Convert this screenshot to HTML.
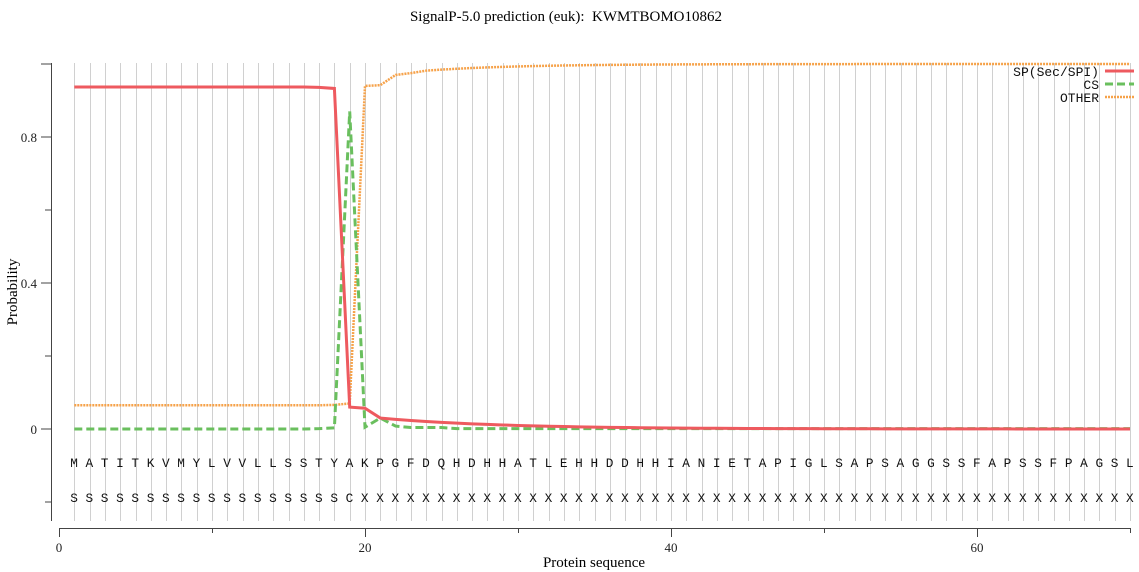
<!DOCTYPE html>
<html><head><meta charset="utf-8"><style>
body{margin:0;background:#fff}
svg{display:block}
</style></head><body>
<svg id="s" width="1139" height="572" xmlns="http://www.w3.org/2000/svg">
<rect width="1139" height="572" fill="#fff"/>
<g id="grid" stroke="#d0d0d0" stroke-width="1"></g>
<text x="566" y="21" font-family="Liberation Serif, serif" font-size="15" text-anchor="middle" xml:space="preserve">SignalP-5.0 prediction (euk):  KWMTBOMO10862</text>
<g stroke="#444" stroke-width="1" fill="none">
<line x1="51.5" y1="63" x2="51.5" y2="521"/>
<line x1="41" y1="64" x2="51" y2="64"/>
<line x1="41" y1="137" x2="51" y2="137"/>
<line x1="45" y1="210" x2="51" y2="210"/>
<line x1="41" y1="283" x2="51" y2="283"/>
<line x1="45" y1="356" x2="51" y2="356"/>
<line x1="41" y1="429" x2="51" y2="429"/>
<line x1="45" y1="502" x2="51" y2="502"/>
<line x1="59" y1="528.5" x2="1131" y2="528.5"/>
<line x1="59.5" y1="528" x2="59.5" y2="537"/>
<line x1="212.5" y1="528" x2="212.5" y2="533"/>
<line x1="365.5" y1="528" x2="365.5" y2="537"/>
<line x1="518.5" y1="528" x2="518.5" y2="533"/>
<line x1="671.5" y1="528" x2="671.5" y2="537"/>
<line x1="824.5" y1="528" x2="824.5" y2="533"/>
<line x1="977.5" y1="528" x2="977.5" y2="537"/>
<line x1="1130.5" y1="528" x2="1130.5" y2="533"/>
</g>
<g font-family="Liberation Serif, serif" font-size="13" fill="#222">
<text x="37" y="142" text-anchor="end">0.8</text>
<text x="37" y="288" text-anchor="end">0.4</text>
<text x="37" y="434" text-anchor="end">0</text>
<text x="59" y="552" text-anchor="middle">0</text>
<text x="365" y="552" text-anchor="middle">20</text>
<text x="671" y="552" text-anchor="middle">40</text>
<text x="977" y="552" text-anchor="middle">60</text>
</g>
<text x="594" y="567" font-family="Liberation Serif, serif" font-size="15" text-anchor="middle">Protein sequence</text>
<text transform="translate(17,292) rotate(-90)" font-family="Liberation Serif, serif" font-size="15" text-anchor="middle">Probability</text>
<g font-family="Liberation Mono, monospace" font-size="12.75" fill="#111">
<text x="70.2" y="467" xml:space="preserve">M A T I T K V M Y L V V L L S S T Y A K P G F D Q H D H H A T L E H H D D H H I A N I E T A P I G L S A P S A G G S S F A P S S F P A G S L</text>
<text x="70.2" y="502" xml:space="preserve">S S S S S S S S S S S S S S S S S S C X X X X X X X X X X X X X X X X X X X X X X X X X X X X X X X X X X X X X X X X X X X X X X X X X X X X</text>
</g>
<g id="series" fill="none"></g>
<g font-family="Liberation Mono, monospace" font-size="13" fill="#111" text-anchor="end">
<text x="1099" y="76">SP(Sec/SPI)</text>
<text x="1099" y="89">CS</text>
<text x="1099" y="102">OTHER</text>
</g>
<line x1="1105" y1="71" x2="1134" y2="71" stroke="#ee5a5f" stroke-width="3"/>
<line x1="1105" y1="84" x2="1134" y2="84" stroke="#6abf5e" stroke-width="3" stroke-dasharray="8,4"/>
<line x1="1105" y1="97" x2="1134" y2="97" stroke="#f6a24a" stroke-width="2.5" stroke-dasharray="2,1"/>
</svg>
<script>
var ns="http://www.w3.org/2000/svg";
function X(i){return 59+15.3*i}
function Y(v){return 429-365*v}
var g=document.getElementById("grid");
for(var i=1;i<=70;i++){var l=document.createElementNS(ns,"line");var x=Math.round(X(i))+0.5;l.setAttribute("x1",x);l.setAttribute("x2",x);l.setAttribute("y1",63);l.setAttribute("y2",521);g.appendChild(l);}
var sp=[],cs=[],ot=[];
for(var i=1;i<=70;i++){
 var s,c,o;
 if(i<=16){s=0.937;c=0;o=0.065}
 else if(i==17){s=0.936;c=0.001;o=0.065}
 else if(i==18){s=0.933;c=0.003;o=0.066}
 else if(i==19){s=0.06;c=0.87;o=0.07}
 else if(i==20){s=0.057;c=0.005;o=0.94}
 else if(i==21){s=0.03;c=0.03;o=0.942}
 else {var k=i-21;s=0.03*Math.exp(-k/8);c=i==22?0.008:(i<26?0.004:0.001);o=1-0.03*Math.exp(-k/6)}
 if(i>=22&&i<=23){o=i==22?0.97:0.975}
 sp.push(X(i)+","+Y(s));cs.push(X(i)+","+Y(c));ot.push(X(i)+","+Y(o));
}
var sg=document.getElementById("series");
function pl(p,col,w,d){var e=document.createElementNS(ns,"polyline");e.setAttribute("points",p.join(" "));e.setAttribute("stroke",col);e.setAttribute("stroke-width",w);if(d)e.setAttribute("stroke-dasharray",d);sg.appendChild(e);}
pl(ot,"#f6a24a",2.5,"2,1");
pl(cs,"#6abf5e",3,"8,4");
pl(sp,"#ee5a5f",3,null);
</script>
</body></html>
